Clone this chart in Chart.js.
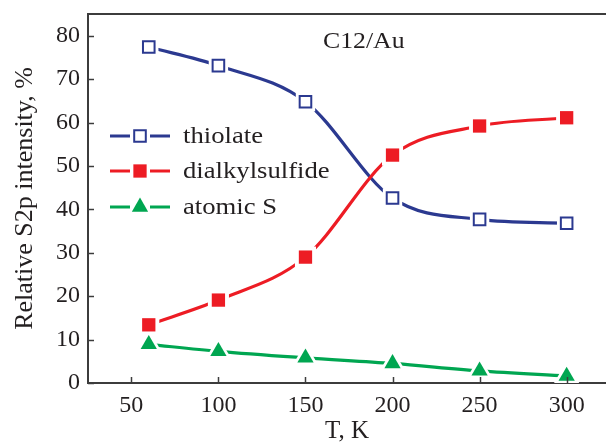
<!DOCTYPE html>
<html>
<head>
<meta charset="utf-8">
<script src="https://cdn.jsdelivr.net/npm/chart.js@4/dist/chart.umd.min.js"></script>
<style>
  html, body { margin: 0; padding: 0; background: #ffffff; overflow: hidden; }
  #wrap { width: 606px; height: 444px; position: relative; }
</style>
</head>
<body>
<div id="wrap"><canvas id="c"></canvas></div>
<script>
// ---- data ----
const temperatures = [60, 100, 150, 200, 250, 300];
const thiolate = [77.4, 73.1, 64.8, 42.6, 37.7, 36.8];
const dialkylsulfide = [13.4, 19.1, 29.0, 52.5, 59.2, 61.1];
const atomicS = [8.9, 7.3, 5.8, 4.5, 2.8, 1.6];
const seriesNames = ['thiolate', 'dialkylsulfide', 'atomic S'];
const xTicks = [50, 100, 150, 200, 250, 300];
const yTicks = [0, 10, 20, 30, 40, 50, 60, 70, 80];
const xTitle = 'T, K';
const yTitle = 'Relative S2p intensity, %';
const annotation = 'C12/Au';

// ---- styles ----
const FONT = '"Liberation Serif", "Times New Roman", serif';
const TEXT = '#231f20';
const AXIS = '#3c3c3c';
const colors = ['#2b3990', '#ed1c24', '#00a651'];
const styles = [
  { pointStyle: 'rect', radius: 8.2, fill: '#ffffff', border: 2 },
  { pointStyle: 'rect', radius: 9.4, fill: null, border: 0 },
  { pointStyle: 'triangle', radius: 9.4, fill: null, border: 0 }
];
const seriesValues = [thiolate, dialkylsulfide, atomicS];

function pts(vals) { return temperatures.map((t, i) => ({ x: t, y: vals[i] })); }

const datasets = [];
// lines
seriesValues.forEach((v, i) => datasets.push({
  label: seriesNames[i], data: pts(v), borderColor: colors[i], borderWidth: 3.2,
  showLine: true, pointRadius: 0, cubicInterpolationMode: 'monotone', fill: false, order: 30 - i
}));
// white halos (gaps around markers)
seriesValues.forEach((v, i) => datasets.push({
  label: '_halo' + i, data: pts(v), showLine: false,
  pointStyle: styles[i].pointStyle, pointRadius: styles[i].radius + 5.5,
  pointBackgroundColor: '#ffffff', pointBorderColor: '#ffffff', pointBorderWidth: 0,
  order: 20 - i
}));
// markers
seriesValues.forEach((v, i) => datasets.push({
  label: '_mark' + i, data: pts(v), showLine: false,
  pointStyle: styles[i].pointStyle, pointRadius: styles[i].radius,
  pointBackgroundColor: styles[i].fill || colors[i], pointBorderColor: colors[i],
  pointBorderWidth: styles[i].border, order: 10 - i
}));

function stretchedText(ctx, text, x, y, sx) {
  ctx.save();
  ctx.translate(x, y);
  ctx.scale(sx, 1);
  ctx.fillText(text, 0, 0);
  ctx.restore();
}

const decor = {
  id: 'decor',
  afterDatasetsDraw(chart) {
    const ctx = chart.ctx;
    const { left, right, top, bottom } = chart.chartArea;
    const xs = chart.scales.x, ys = chart.scales.y;
    ctx.save();
    // frame top
    ctx.strokeStyle = AXIS; ctx.lineWidth = 2;
    ctx.beginPath(); ctx.moveTo(left - 1, top); ctx.lineTo(right, top); ctx.stroke();
    // inward ticks
    ctx.lineWidth = 1.5;
    xTicks.forEach(t => {
      const px = Math.round(xs.getPixelForValue(t)) + 0.5;
      ctx.beginPath(); ctx.moveTo(px, bottom); ctx.lineTo(px, bottom - 6); ctx.stroke();
    });
    yTicks.forEach(t => {
      const py = Math.round(ys.getPixelForValue(t)) + 0.5;
      ctx.beginPath(); ctx.moveTo(left, py); ctx.lineTo(left + 6, py); ctx.stroke();
    });
    // annotation
    ctx.fillStyle = TEXT; ctx.font = '23px ' + FONT;
    ctx.textBaseline = 'alphabetic'; ctx.textAlign = 'left';
    stretchedText(ctx, annotation, 323, 48, 1.12);
    // legend
    const rowsY = [136, 171, 207];
    seriesNames.forEach((name, i) => {
      const y = rowsY[i];
      ctx.strokeStyle = colors[i]; ctx.lineWidth = 3.2;
      ctx.beginPath(); ctx.moveTo(110, y); ctx.lineTo(130, y);
      ctx.moveTo(150, y); ctx.lineTo(170, y); ctx.stroke();
      ctx.fillStyle = styles[i].fill || colors[i];
      ctx.strokeStyle = colors[i];
      ctx.lineWidth = styles[i].border;
      Chart.helpers.drawPoint(ctx, {
        pointStyle: styles[i].pointStyle, radius: styles[i].radius,
        rotation: 0, borderWidth: styles[i].border
      }, 140, y);
      ctx.fillStyle = TEXT; ctx.font = '23px ' + FONT;
      ctx.textBaseline = 'middle'; ctx.textAlign = 'left';
      stretchedText(ctx, name, 183, y + 1, 1.16);
    });
    ctx.restore();
  }
};

new Chart(document.getElementById('c'), {
  type: 'scatter',
  data: { datasets },
  options: {
    responsive: true, maintainAspectRatio: false, animation: false,
    layout: { autoPadding: false, padding: { left: 0, top: 14, right: 0, bottom: 0 } },
    plugins: { legend: { display: false }, tooltip: { enabled: false } },
    scales: {
      x: {
        type: 'linear', min: 25.1, max: 322.6,
        afterBuildTicks: s => { s.ticks = xTicks.map(v => ({ value: v })); },
        afterFit: s => { s.height = 61; s.paddingLeft = 0; s.paddingRight = 0; },
        grid: { display: false, drawTicks: false, tickLength: 0 },
        border: { display: true, color: AXIS, width: 2 },
        ticks: { color: TEXT, font: { family: FONT, size: 24 }, padding: 8, maxRotation: 0 },
        title: { display: true, text: xTitle, color: TEXT, font: { family: FONT, size: 25, lineHeight: 1 }, padding: { top: 0, bottom: 0 } }
      },
      y: {
        type: 'linear', min: 0, max: 85,
        afterBuildTicks: s => { s.ticks = yTicks.map(v => ({ value: v })); },
        afterFit: s => { s.width = 88; s.paddingTop = 0; s.paddingBottom = 0; },
        grid: { display: false, drawTicks: false, tickLength: 0 },
        border: { display: true, color: AXIS, width: 2 },
        ticks: { color: TEXT, font: { family: FONT, size: 24 }, padding: 8 },
        title: { display: true, text: yTitle, color: TEXT, font: { family: FONT, size: 26, lineHeight: 1 }, padding: { top: 12, bottom: 0 } }
      }
    }
  },
  plugins: [decor]
});
</script>
</body>
</html>
